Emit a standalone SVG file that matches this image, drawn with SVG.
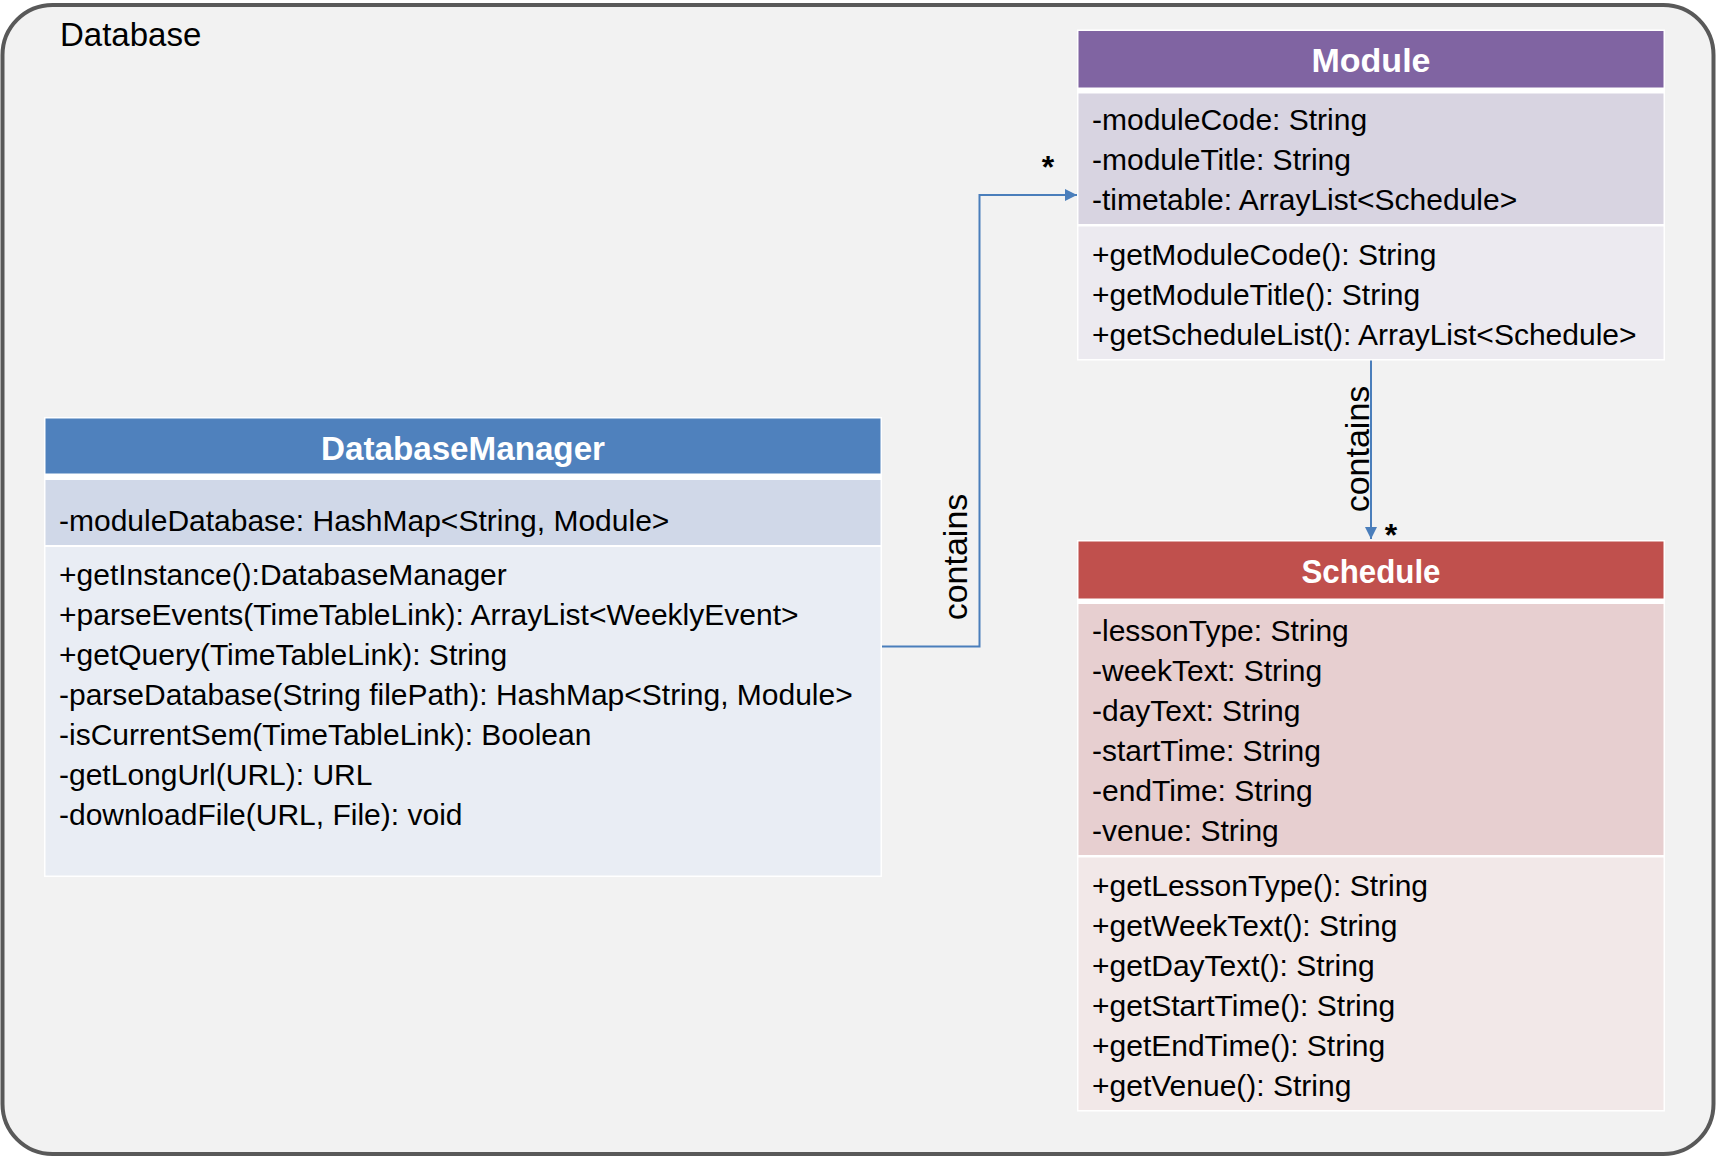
<svg xmlns="http://www.w3.org/2000/svg" width="1717" height="1157" viewBox="0 0 1717 1157">
  <style>
    .frame { fill: #f2f2f2; stroke: #595959; stroke-width: 4; }
    .tbl { fill: #ffffff; }
    .title { font-family: "Liberation Sans", Arial, sans-serif; font-weight: bold; font-size: 33px; fill: #ffffff; text-anchor: middle; }
    .body { font-family: "Liberation Sans", Arial, sans-serif; font-size: 30px; fill: #000000; }
    .lbl { font-family: "Liberation Sans", Arial, sans-serif; font-size: 34px; fill: #000000; text-anchor: middle; }
    .star { font-family: "Liberation Sans", Arial, sans-serif; font-size: 32px; font-weight: bold; fill: #000000; text-anchor: middle; }
    .edge { fill: none; stroke: #4a7ebb; stroke-width: 2; }
  </style>
  <defs>
    <marker id="arrow" markerUnits="userSpaceOnUse" markerWidth="13" markerHeight="13" refX="12" refY="6" orient="auto">
      <path d="M0,0 L12,6 L0,12 z" fill="#4a7ebb"/>
    </marker>
  </defs>

  <g id="database-frame">
    <rect class="frame" x="2.5" y="5" width="1711" height="1149" rx="50" ry="50"/>
    <text x="60" y="46" font-family="Liberation Sans, Arial, sans-serif" font-size="33" fill="#000">Database</text>
  </g>

  <g id="connectors">
    <path class="edge" d="M881.5 646.5 H979.5 V195 H1077" marker-end="url(#arrow)"/>
    <text class="lbl" transform="translate(967,557) rotate(-90)">contains</text>
    <text class="star" x="1048" y="178">*</text>
    <path class="edge" d="M1371 360 V539" marker-end="url(#arrow)"/>
    <text class="lbl" transform="translate(1369,449) rotate(-90)">contains</text>
    <text class="star" x="1391" y="546">*</text>
  </g>

  <g id="module">
    <rect class="tbl" x="1077" y="29.5" width="588" height="331"/>
    <rect x="1078.5" y="31" width="585" height="56.5" fill="#8064a2"/>
    <rect x="1078.5" y="93.5" width="585" height="130.5" fill="#d8d4e1"/>
    <rect x="1078.5" y="226.5" width="585" height="132.5" fill="#eceaf0"/>
    <text class="title" x="1371" y="72" textLength="119" lengthAdjust="spacingAndGlyphs">Module</text>
    <text class="body" x="1092" y="129.5">-moduleCode: String</text>
    <text class="body" x="1092" y="169.5">-moduleTitle: String</text>
    <text class="body" x="1092" y="209.5">-timetable: ArrayList&lt;Schedule&gt;</text>
    <text class="body" x="1092" y="264.5">+getModuleCode(): String</text>
    <text class="body" x="1092" y="304.5">+getModuleTitle(): String</text>
    <text class="body" x="1092" y="344.5">+getScheduleList(): ArrayList&lt;Schedule&gt;</text>
  </g>

  <g id="database-manager">
    <rect class="tbl" x="44" y="417" width="838" height="460"/>
    <rect x="45.5" y="418.5" width="835" height="55" fill="#4f81bd"/>
    <rect x="45.5" y="480" width="835" height="65" fill="#d0d8e8"/>
    <rect x="45.5" y="547" width="835" height="328.5" fill="#e9edf4"/>
    <text class="title" x="463" y="460" textLength="284" lengthAdjust="spacingAndGlyphs">DatabaseManager</text>
    <text class="body" x="59" y="530.5">-moduleDatabase: HashMap&lt;String, Module&gt;</text>
    <text class="body" x="59" y="584.5">+getInstance():DatabaseManager</text>
    <text class="body" x="59" y="624.5">+parseEvents(TimeTableLink): ArrayList&lt;WeeklyEvent&gt;</text>
    <text class="body" x="59" y="664.5">+getQuery(TimeTableLink): String</text>
    <text class="body" x="59" y="704.5">-parseDatabase(String filePath): HashMap&lt;String, Module&gt;</text>
    <text class="body" x="59" y="744.5">-isCurrentSem(TimeTableLink): Boolean</text>
    <text class="body" x="59" y="784.5">-getLongUrl(URL): URL</text>
    <text class="body" x="59" y="824.5">-downloadFile(URL, File): void</text>
  </g>

  <g id="schedule">
    <rect class="tbl" x="1077" y="540" width="588" height="571.5"/>
    <rect x="1078.5" y="541.5" width="585" height="57" fill="#c0504d"/>
    <rect x="1078.5" y="604" width="585" height="251" fill="#e7cfd0"/>
    <rect x="1078.5" y="857.5" width="585" height="252.5" fill="#f2e8e8"/>
    <text class="title" x="1371" y="583" textLength="139" lengthAdjust="spacingAndGlyphs">Schedule</text>
    <text class="body" x="1092" y="640.5">-lessonType: String</text>
    <text class="body" x="1092" y="680.5">-weekText: String</text>
    <text class="body" x="1092" y="720.5">-dayText: String</text>
    <text class="body" x="1092" y="760.5">-startTime: String</text>
    <text class="body" x="1092" y="800.5">-endTime: String</text>
    <text class="body" x="1092" y="840.5">-venue: String</text>
    <text class="body" x="1092" y="895.5">+getLessonType(): String</text>
    <text class="body" x="1092" y="935.5">+getWeekText(): String</text>
    <text class="body" x="1092" y="975.5">+getDayText(): String</text>
    <text class="body" x="1092" y="1015.5">+getStartTime(): String</text>
    <text class="body" x="1092" y="1055.5">+getEndTime(): String</text>
    <text class="body" x="1092" y="1095.5">+getVenue(): String</text>
  </g>
</svg>
